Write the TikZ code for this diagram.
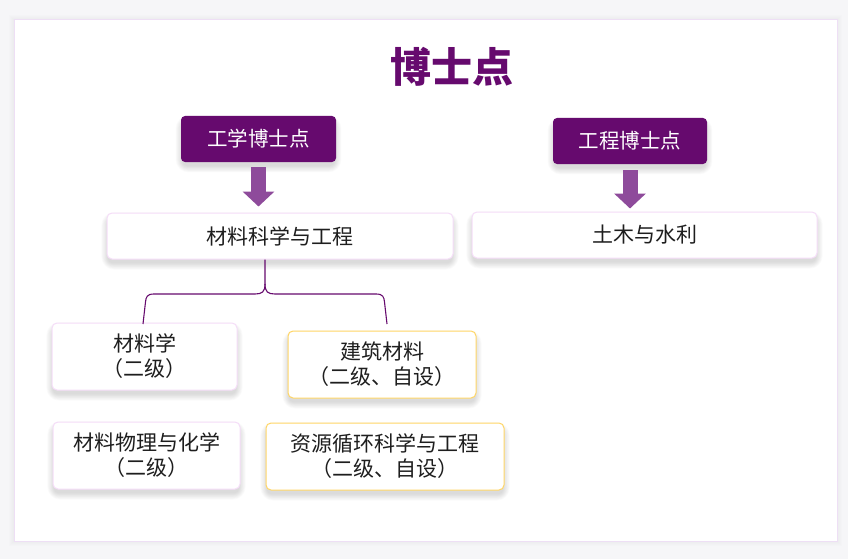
\documentclass[tikz,border=0pt]{standalone}
\usepackage{fontspec}
\setmainfont{Noto Sans CJK SC}
\usetikzlibrary{arrows.meta,calc}
\definecolor{bgc}{HTML}{F6F6F8}
\definecolor{panelb}{HTML}{EEDFF5}
\definecolor{purpD}{HTML}{660A6E}
\definecolor{arrowc}{HTML}{8E4B9B}
\definecolor{pinkb}{HTML}{F5DDF8}
\definecolor{yelb}{HTML}{FFD666}
\definecolor{txt}{HTML}{1E1E1E}
\pgfdeclarelayer{bgl}
\pgfdeclarelayer{shl}
\pgfsetlayers{bgl,shl,main}
\tikzset{
  hdr/.style={fill=purpD, draw=none, rounded corners=4pt, text=white, font=\fontsize{20.5}{24}\selectfont, minimum height=46pt, inner sep=0pt},
  mbox/.style={fill=white, draw=pinkb, line width=1pt, rounded corners=5pt, text=txt, font=\fontsize{21}{25}\selectfont, minimum height=46pt, inner sep=0pt},
  sbox/.style={mbox, minimum height=67pt, align=center},
  ybox/.style={sbox, draw=yelb},
  blk/.style={draw=arrowc, line width=15pt, -{Triangle[width=31pt,length=15pt]}},
  brace/.style={draw=purpD, line width=1.1pt},
  shdl/.style={fill=black, opacity=0.016}
}
\newcommand\softshadow[1]{%
  \begin{pgfonlayer}{shl}
  \foreach \k in {1,...,9}{
    \fill[shdl, rounded corners=4pt+\k pt]
      ($(#1.south west)+(-\k*0.8+2,3+\k*0.8)$) rectangle ($(#1.north east)+(\k*0.8-2,7-\k*0.8)$);
  }
  \end{pgfonlayer}}
\begin{document}
\begin{tikzpicture}[x=1pt,y=-1pt]
\begin{pgfonlayer}{bgl}
\fill[bgc] (0,0) rectangle (848,559);
\foreach \k in {1,...,5}{
  \fill[black, opacity=0.006] (14-\k,20-\k) rectangle (837+\k,541+\k);
}
\filldraw[fill=white, draw=panelb, line width=1pt] (14,20) rectangle (837,541);
\end{pgfonlayer}
\path[use as bounding box] (0,0) rectangle (848,559);
\node[text=purpD, font=\fontsize{41}{48}\selectfont\bfseries] (title) at (452,67) {博士点};
\node[hdr, minimum width=155pt] (gx) at (258.5,139) {工学博士点};
\node[hdr, minimum width=154pt] (gc) at (630,141) {工程博士点};
\node[mbox, minimum width=346pt] (cl) at (280,236) {材料科学与工程};
\node[mbox, minimum width=345pt] (tm) at (644.5,235) {土木与水利};
\node[sbox, minimum width=185pt] (clx) at (144.5,356.5) {材料学\\（二级）};
\node[ybox, minimum width=188pt] (jz) at (382,364.5) {建筑材料\\（二级、自设）};
\node[sbox, minimum width=187pt] (wl) at (146.5,455.5) {材料物理与化学\\（二级）};
\node[ybox, minimum width=238pt] (zy) at (385,456.5) {资源循环科学与工程\\（二级、自设）};
\softshadow{gx}\softshadow{gc}\softshadow{cl}\softshadow{tm}
\softshadow{clx}\softshadow{jz}\softshadow{wl}\softshadow{zy}
\draw[blk] ([yshift=-5pt]gx.south) -- ([yshift=6pt]gx.south |- cl.north);
\draw[blk] ([yshift=-6pt]gc.south) -- ([yshift=3pt]gc.south |- tm.north);
\coordinate (bm) at (265,294);
\coordinate (bl) at (143,324);
\coordinate (br) at (387,324);
\draw[brace] (cl.south -| bm) -- (265,284) .. controls (265,292) and (262,294) .. (255,294) -- (154,294) .. controls (147,294) and (146,297) .. (145.5,302) -- (bl);
\draw[brace] (265,284) .. controls (265,292) and (268,294) .. (275,294) -- (376,294) .. controls (383,294) and (384,297) .. (384.5,302) -- (br);
\end{tikzpicture}
\end{document}
